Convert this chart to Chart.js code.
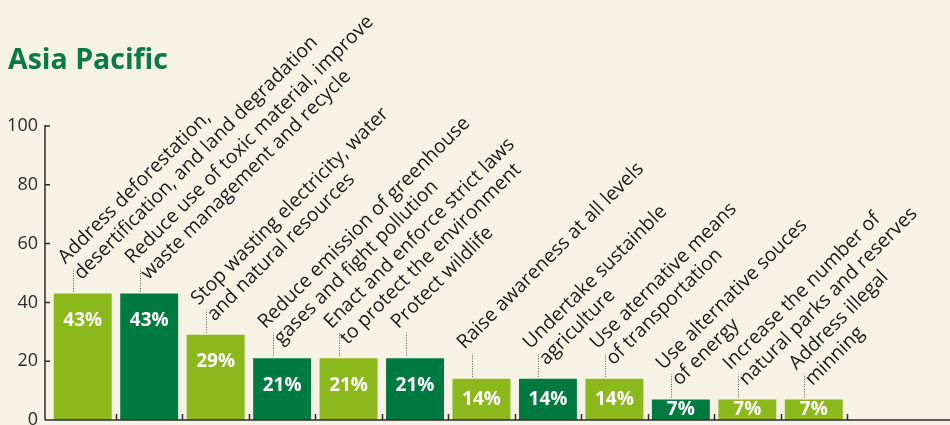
<!DOCTYPE html>
<html>
<head>
<meta charset="utf-8">
<script src="https://cdn.jsdelivr.net/npm/chart.js@4.4.1/dist/chart.umd.min.js"></script>
<style>
  html, body { margin: 0; padding: 0; background: #f6f2e5; }
  #wrap { width: 950px; height: 425px; position: relative; }
</style>
</head>
<body>
<div id="wrap"><canvas id="chart"></canvas></div>
<script>
// data
const categories = [
    ['Address deforestation,', 'desertification, and land degradation'],
    ['Reduce use of toxic material, improve', 'waste management and recycle'],
    ['Stop wasting electricity, water', 'and natural resources'],
    ['Reduce emission of greenhouse', 'gases and fight pollution'],
    ['Enact and enforce strict laws', 'to protect the environment'],
    ['Protect wildlife'],
    ['Raise awareness at all levels'],
    ['Undertake sustainble', 'agriculture'],
    ['Use aternative means', 'of transportation'],
    ['Use alternative souces', 'of energy'],
    ['Increase the number of', 'natural parks and reserves'],
    ['Address illegal', 'minning']
];
const values = [43, 43, 29, 21, 21, 21, 14, 14, 14, 7, 7, 7];
const yTicks = [0, 20, 40, 60, 80, 100];

const LIGHT = '#8bb81a', DARK = '#007a40', INK = '#2b2b2b';
const FONT = '"Open Sans", "Noto Sans", sans-serif';
const shades = [LIGHT, DARK, LIGHT, DARK, LIGHT, DARK, LIGHT, DARK, LIGHT, DARK, LIGHT, LIGHT];

// axis lines, tick marks, leaders, rotated labels and values
const decorPlugin = {
    id: 'decor',
    afterDatasetsDraw(chart) {
        const ctx = chart.ctx;
        const x = chart.scales.x, y = chart.scales.y;
        const area = chart.chartArea;
        const axisX = area.left - 4.5;
        const y0 = y.getPixelForValue(0);

        ctx.save();
        ctx.strokeStyle = INK;
        ctx.lineWidth = 1.5;
        // y axis + inward ticks
        ctx.beginPath();
        ctx.moveTo(axisX, y.getPixelForValue(100) - 1);
        ctx.lineTo(axisX, y0);
        yTicks.forEach(v => {
            const py = y.getPixelForValue(v);
            ctx.moveTo(axisX, py);
            ctx.lineTo(axisX + 5, py);
        });
        // baseline to the right edge
        ctx.moveTo(axisX, y0);
        ctx.lineTo(chart.width, y0);
        // category boundary ticks
        for (let i = 0; i < categories.length; i++) {
            const next = i + 1 < categories.length ? x.getPixelForValue(i + 1) : 2 * x.getPixelForValue(i) - x.getPixelForValue(i - 1);
            const bx = Math.round((x.getPixelForValue(i) + next) / 2) + 0.5;
            ctx.moveTo(bx, y0);
            ctx.lineTo(bx, y0 - 6);
        }
        ctx.stroke();

        const bars = chart.getDatasetMeta(0).data;
        bars.forEach((bar, i) => {
            const lx = Math.round(bar.x - 9.5) + 0.5;
            const top = bar.y - 25;
            // dotted leader
            ctx.save();
            ctx.strokeStyle = '#555';
            ctx.lineWidth = 1;
            ctx.setLineDash([1, 1.5]);
            ctx.beginPath();
            ctx.moveTo(lx, bar.y - 2);
            ctx.lineTo(lx, top);
            ctx.stroke();
            ctx.restore();

            // rotated label
            ctx.save();
            ctx.fillStyle = '#1a1a1a';
            ctx.font = '19.5px ' + FONT;
            ctx.textAlign = 'left';
            ctx.textBaseline = 'alphabetic';
            ctx.translate(lx - 8, top - 4);
            ctx.rotate(-Math.PI / 4);
            categories[i].forEach((line, k) => ctx.fillText(line, 0, k * 22.5));
            ctx.restore();

            // value inside bar
            ctx.save();
            ctx.fillStyle = '#ffffff';
            ctx.font = 'bold 19px ' + FONT;
            ctx.textAlign = 'center';
            ctx.textBaseline = 'middle';
            const vy = Math.min(bar.y + 27, (bar.y + bar.base) / 2);
            ctx.fillText(values[i] + '%', bar.x, vy);
            ctx.restore();
        });
        ctx.restore();
    }
};

new Chart(document.getElementById('chart'), {
    type: 'bar',
    data: {
        labels: categories,
        datasets: [{
            data: values,
            backgroundColor: shades,
            borderWidth: 0,
            categoryPercentage: 1,
            barPercentage: 0.872
        }]
    },
    options: {
        responsive: true,
        maintainAspectRatio: false,
        animation: false,
        layout: { padding: { left: 8, right: 103, top: 0, bottom: 5 } },
        plugins: {
            legend: { display: false },
            tooltip: { enabled: false },
            title: {
                display: true,
                text: 'Asia Pacific',
                align: 'start',
                color: '#0a7a45',
                font: { family: FONT, size: 28.5, weight: 'bold' },
                padding: { top: 44, bottom: 47.8 }
            }
        },
        scales: {
            x: {
                display: false
            },
            y: {
                min: 0,
                max: 100,
                afterBuildTicks(s) { s.ticks = yTicks.map(v => ({ value: v })); },
                grid: { display: false, drawTicks: false },
                border: { display: false },
                ticks: {
                    color: INK,
                    padding: 11.5,
                    font: { family: FONT, size: 18 }
                },
                afterFit(s) {
                    s.width = 41.5;
                    s.paddingTop = 0;
                    s.paddingBottom = 0;
                }
            }
        }
    },
    plugins: [decorPlugin]
});
</script>
</body>
</html>
